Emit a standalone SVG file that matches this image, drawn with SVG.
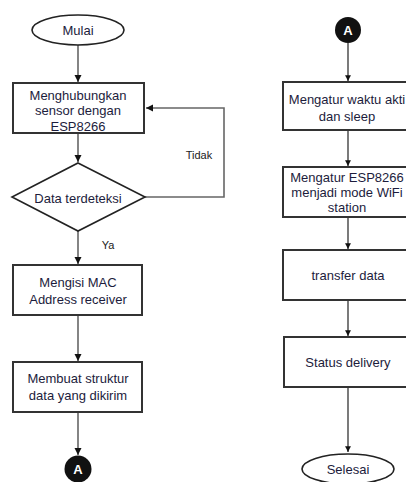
<svg xmlns="http://www.w3.org/2000/svg" width="406" height="482" viewBox="0 0 406 482">
  <style>
    .box { fill: #ffffff; stroke: #333333; stroke-width: 2; }
    .term { fill: #ffffff; stroke: #222222; stroke-width: 1.6; }
    .conn { fill: #111111; }
    .lbl { font-family: "Liberation Sans", Arial, sans-serif; font-size: 13px; fill: #1c1c3c; text-anchor: middle; dominant-baseline: central; }
    .small { font-family: "Liberation Sans", Arial, sans-serif; font-size: 11px; fill: #222222; text-anchor: middle; dominant-baseline: central; }
    .conntext { font-family: "Liberation Sans", Arial, sans-serif; font-size: 13px; font-weight: bold; fill: #ffffff; text-anchor: middle; dominant-baseline: central; }
    .edge { fill: none; stroke: #666666; stroke-width: 1.6; }
    .edge-r { fill: none; stroke: #333333; stroke-width: 1.3; }
  </style>
  <defs>
    <marker id="arrow" viewBox="0 0 10 10" refX="10" refY="5" markerWidth="4.5" markerHeight="4.5" orient="auto" markerUnits="strokeWidth">
      <path d="M0,0 L10,5 L0,10 z" fill="#111111"/>
    </marker>
  </defs>
  <rect width="406" height="482" fill="#ffffff"/>

  <g id="connectors">
    <path class="edge" d="M78,45 V82" marker-end="url(#arrow)"/>
    <path class="edge" d="M78,134 V162" marker-end="url(#arrow)"/>
    <path class="edge" d="M145,197 H224 V108 H146" marker-end="url(#arrow)"/>
    <path class="edge" d="M78,230 V264" marker-end="url(#arrow)"/>
    <path class="edge" d="M78,316 V361" marker-end="url(#arrow)"/>
    <path class="edge" d="M78,413 V455" marker-end="url(#arrow)"/>
    <path class="edge-r" d="M348,43 V81" marker-end="url(#arrow)"/>
    <path class="edge-r" d="M348,131 V166" marker-end="url(#arrow)"/>
    <path class="edge-r" d="M348,218 V249" marker-end="url(#arrow)"/>
    <path class="edge-r" d="M348,301 V336" marker-end="url(#arrow)"/>
    <path class="edge-r" d="M348,388 V452" marker-end="url(#arrow)"/>
    <text class="small" x="199" y="155">Tidak</text>
    <text class="small" x="108" y="245">Ya</text>
  </g>

  <g id="mulai">
    <ellipse class="term" cx="78" cy="30" rx="46" ry="15"/>
    <text class="lbl" x="78" y="30">Mulai</text>
  </g>

  <g id="hubungkan">
    <rect class="box" x="13" y="83" width="131" height="50"/>
    <text class="lbl" x="78" y="95">Menghubungkan</text>
    <text class="lbl" x="78" y="110">sensor dengan</text>
    <text class="lbl" x="78" y="126">ESP8266</text>
  </g>

  <g id="deteksi">
    <polygon points="78,163 145,197 78,231 12,197" fill="#ffffff" stroke="#222222" stroke-width="1.6"/>
    <text class="lbl" x="78" y="198">Data terdeteksi</text>
  </g>

  <g id="mac">
    <rect class="box" x="13" y="265" width="129" height="50"/>
    <text class="lbl" x="78" y="282">Mengisi MAC</text>
    <text class="lbl" x="78" y="299">Address receiver</text>
  </g>

  <g id="struktur">
    <rect class="box" x="13" y="362" width="129" height="50"/>
    <text class="lbl" x="78" y="378">Membuat struktur</text>
    <text class="lbl" x="78" y="395">data yang dikirim</text>
  </g>

  <g id="connector-a-out">
    <circle class="conn" cx="78" cy="469" r="13.5"/>
    <text class="conntext" x="78" y="469">A</text>
  </g>

  <g id="connector-a-in">
    <circle class="conn" cx="348" cy="30" r="13"/>
    <text class="conntext" x="348" y="30">A</text>
  </g>

  <g id="waktu">
    <rect class="box" x="283" y="82" width="132" height="48"/>
    <text class="lbl" x="347" y="99">Mengatur waktu akti</text>
    <text class="lbl" x="347" y="116">dan sleep</text>
  </g>

  <g id="wifi">
    <rect class="box" x="283" y="167" width="132" height="50"/>
    <text class="lbl" x="347" y="177">Mengatur ESP8266</text>
    <text class="lbl" x="347" y="192">menjadi mode WiFi</text>
    <text class="lbl" x="347" y="207">station</text>
  </g>

  <g id="transfer">
    <rect class="box" x="283" y="250" width="132" height="50"/>
    <text class="lbl" x="348" y="275">transfer data</text>
  </g>

  <g id="delivery">
    <rect class="box" x="284" y="337" width="131" height="50"/>
    <text class="lbl" x="348" y="362">Status delivery</text>
  </g>

  <g id="selesai">
    <ellipse class="term" cx="348" cy="469" rx="46" ry="15"/>
    <text class="lbl" x="348" y="469">Selesai</text>
  </g>
</svg>
